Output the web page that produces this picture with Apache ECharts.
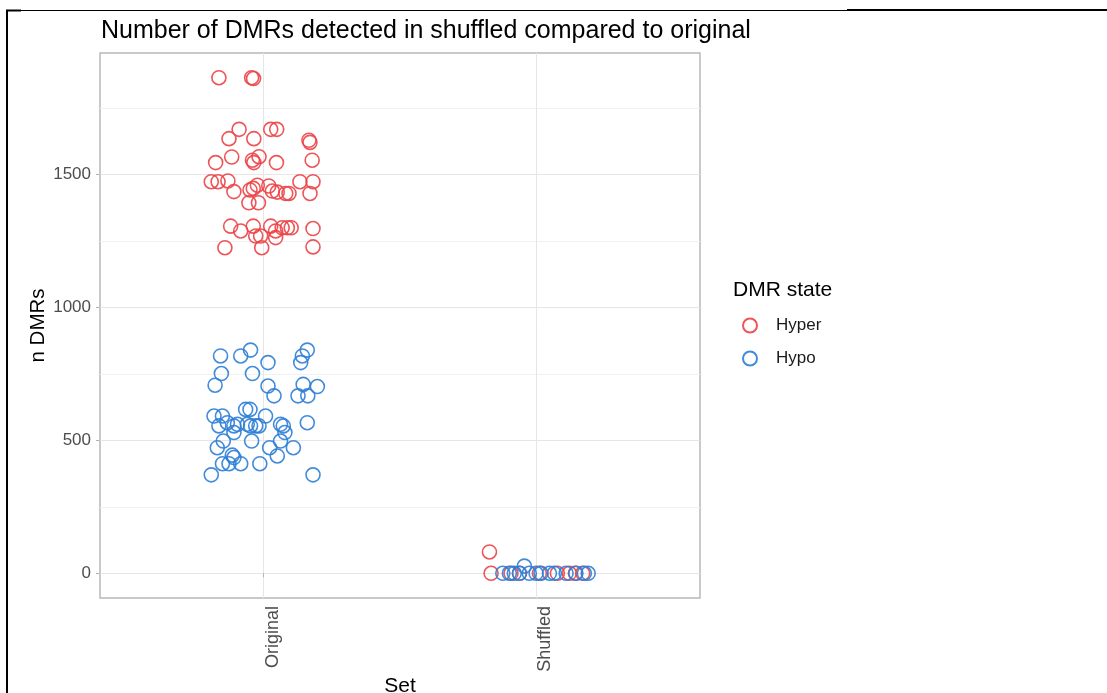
<!DOCTYPE html>
<html>
<head>
<meta charset="utf-8">
<script src="https://cdn.jsdelivr.net/npm/echarts@6/dist/echarts.min.js"></script>
<style>
  html, body { margin: 0; padding: 0; background: #ffffff; }
  #chart { width: 1107px; height: 693px; }
</style>
</head>
<body>
<div id="chart"></div>
<script>
// Categories and tick values
const sets = ['Original', 'Shuffled'];
const states = ['Hyper', 'Hypo'];
const yTicks = [0, 500, 1000, 1500];
const yMinorTicks = [250, 750, 1250, 1750];

// Original set, hypermethylated DMRs: horizontal jitter (category units) and counts
const hyperOriginalJitter = [
  -0.164, -0.044, -0.037, -0.090, 0.026, 0.048, -0.127, -0.036, 0.166, 0.170,
  -0.176, -0.117, -0.041, -0.036, -0.017, 0.047, 0.178, -0.192, -0.167, -0.131,
  -0.109, -0.050, -0.038, -0.023, -0.054, -0.019, 0.019, 0.032, 0.050, 0.081,
  0.093, 0.133, 0.181, 0.170, -0.121, -0.084, -0.038, -0.029, -0.011, 0.026,
  0.044, 0.044, 0.068, 0.087, 0.101, 0.181, -0.142, -0.007, 0.181
];
const hyperOriginalValues = [
  1863, 1863, 1860, 1669, 1669, 1669, 1634, 1634, 1628, 1620,
  1544, 1565, 1553, 1544, 1566, 1544, 1553, 1472, 1472, 1475,
  1435, 1441, 1447, 1459, 1393, 1393, 1456, 1437, 1433, 1428,
  1428, 1472, 1472, 1428, 1305, 1287, 1305, 1268, 1268, 1305,
  1287, 1262, 1299, 1299, 1299, 1296, 1224, 1224, 1227
];

// Original set, hypomethylated DMRs
const hypoOriginalJitter = [
  -0.158, -0.084, -0.048, 0.016, 0.142, 0.160, 0.136, -0.155, -0.041, -0.178,
  0.016, 0.038, 0.145, 0.197, 0.126, 0.162, -0.066, -0.050, -0.182, -0.151,
  0.007, -0.164, -0.133, -0.109, -0.096, -0.060, -0.048, -0.029, -0.017, 0.062,
  0.072, 0.160, -0.109, 0.078, -0.148, -0.044, 0.062, -0.170, 0.022, 0.109,
  -0.115, -0.109, 0.050, -0.151, -0.127, -0.084, -0.014, -0.192, 0.181
];
const hypoOriginalValues = [
  817, 817, 839, 792, 817, 839, 792, 751, 751, 707,
  704, 667, 710, 702, 667, 667, 616, 616, 591, 591,
  591, 554, 566, 554, 560, 560, 554, 554, 554, 560,
  554, 566, 529, 529, 497, 497, 497, 472, 472, 472,
  444, 435, 441, 412, 412, 412, 412, 370, 370
];

// Shuffled set, hypermethylated DMRs
const hyperShuffledJitter = [-0.172, -0.166, -0.093, -0.062, 0.011, 0.077, 0.121, 0.143, 0.170];
const hyperShuffledValues = [80, 0, 0, 0, 0, 0, 0, 0, 0];

// Shuffled set, hypomethylated DMRs
const hypoShuffledJitter = [
  -0.123, -0.099, -0.081, -0.062, -0.044, -0.026, -0.001, 0.017, 0.048, 0.066,
  0.109, 0.145, 0.176, 0.190
];
const hypoShuffledValues = [0, 0, 0, 0, 27, 0, 0, 0, 0, 0, 0, 0, 0, 0];

const stateColors = { Hyper: '#EC4246', Hypo: '#2E7ED6' };

function points(setIndex, jitter, values) {
  return values.map((v, i) => [setIndex + 1 + jitter[i], v]);
}

const seriesData = {
  Hyper: points(0, hyperOriginalJitter, hyperOriginalValues)
    .concat(points(1, hyperShuffledJitter, hyperShuffledValues)),
  Hypo: points(0, hypoOriginalJitter, hypoOriginalValues)
    .concat(points(1, hypoShuffledJitter, hypoShuffledValues))
};

const FONT = '"Liberation Sans", Arial, Helvetica, sans-serif';
const Y_MIN = -93, Y_MAX = 1956;
const gridColor = '#E6E6E6';
const minorGridColor = '#F1F1F1';
const tickColor = '#B3B3B3';
const labelColor = '#4D4D4D';

const chart = echarts.init(document.getElementById('chart'), null, { renderer: 'canvas' });

chart.setOption({
  animation: false,
  backgroundColor: '#ffffff',
  title: [
    {
      text: 'Number of DMRs detected in shuffled compared to original',
      left: 96, top: 14,
      textStyle: { fontFamily: FONT, fontSize: 25, fontWeight: 'normal', color: '#000000' }
    },
    {
      text: 'DMR state',
      left: 728, top: 275,
      textStyle: { fontFamily: FONT, fontSize: 21, fontWeight: 'normal', color: '#000000' }
    }
  ],
  legend: {
    data: states,
    orient: 'vertical',
    left: 742, top: 317,
    padding: 0,
    itemWidth: 14, itemHeight: 14,
    itemGap: 16,
    textStyle: { fontFamily: FONT, fontSize: 17, color: '#1A1A1A', padding: [0, 0, 0, 14] }
  },
  grid: {
    left: 100, top: 53, width: 600, height: 545,
    outerBoundsMode: 'none',
    show: true, borderColor: '#B8B8B8', borderWidth: 1.5, backgroundColor: 'transparent'
  },
  xAxis: {
    type: 'value', min: 0.4, max: 2.6,
    name: 'Set', nameLocation: 'middle', nameGap: 78, nameMoveOverlap: false,
    nameTextStyle: { fontFamily: FONT, fontSize: 21, color: '#000000' },
    axisLine: { show: false },
    axisTick: { show: true, length: 4, lineStyle: { color: tickColor, width: 1 }, customValues: [1, 2] },
    axisLabel: {
      customValues: [1, 2], rotate: 90, margin: 8, verticalAlign: 'top',
      fontFamily: FONT, fontSize: 18, color: labelColor,
      formatter: v => sets[Math.round(v) - 1]
    },
    splitLine: { show: true, lineStyle: { color: gridColor, width: 1 } }
  },
  yAxis: [
    {
      type: 'value', min: Y_MIN, max: Y_MAX,
      name: 'n DMRs', nameLocation: 'middle', nameGap: 51, nameMoveOverlap: false,
      nameTextStyle: { fontFamily: FONT, fontSize: 20.5, color: '#000000' },
      axisLine: { show: false },
      axisTick: { show: true, length: 4, lineStyle: { color: tickColor, width: 1 }, customValues: yTicks },
      axisLabel: {
        customValues: yTicks, margin: 9, fontFamily: FONT, fontSize: 17, color: labelColor,
        formatter: v => String(v)
      },
      splitLine: { show: true, lineStyle: { color: gridColor, width: 1 } }
    },
    {
      type: 'value', min: Y_MIN, max: Y_MAX, position: 'left',
      axisLine: { show: false },
      axisTick: { show: false, customValues: yMinorTicks },
      axisLabel: { show: false, customValues: yMinorTicks },
      splitLine: { show: true, lineStyle: { color: minorGridColor, width: 1 } }
    }
  ],
  series: states.map(state => ({
    name: state,
    type: 'scatter',
    xAxisIndex: 0, yAxisIndex: 0,
    symbol: 'circle',
    symbolSize: 14,
    itemStyle: {
      color: 'rgba(255,255,255,0)',
      borderColor: stateColors[state],
      borderWidth: 1.6,
      opacity: 0.9
    },
    emphasis: { disabled: true },
    data: seriesData[state]
  })),
  graphic: [
    { type: 'line', shape: { x1: 7, y1: 10, x2: 7, y2: 693 }, style: { stroke: '#000', lineWidth: 2 } },
    { type: 'line', shape: { x1: 6, y1: 10.5, x2: 21, y2: 10.5 }, style: { stroke: '#000', lineWidth: 2 } },
    { type: 'line', shape: { x1: 6, y1: 10.5, x2: 848, y2: 10.5 }, style: { stroke: '#000', lineWidth: 1 } },
    { type: 'line', shape: { x1: 847, y1: 10, x2: 1107, y2: 10 }, style: { stroke: '#000', lineWidth: 2 } }
  ]
});
</script>
</body>
</html>
